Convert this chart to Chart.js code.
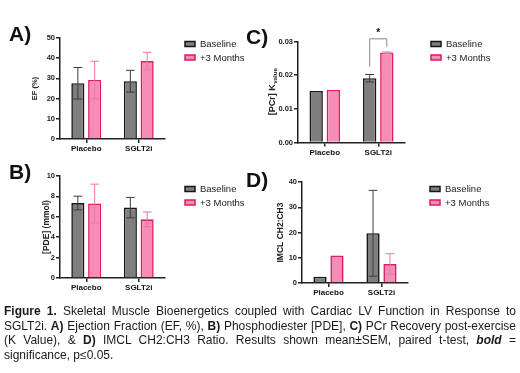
<!DOCTYPE html>
<html>
<head>
<meta charset="utf-8">
<script src="https://cdn.jsdelivr.net/npm/chart.js@4"></script>
<style>
  html, body { margin: 0; padding: 0; background: #fff; }
  #page { position: relative; width: 520px; height: 373px; overflow: hidden; font-family: Arial, "Liberation Sans", sans-serif; }
  canvas { position: absolute; }
  .panel-label { position: absolute; font-weight: bold; font-size: 21px; color: #111; line-height: 1; }
  #caption {
    position: absolute; left: 4px; top: 304px; width: 512px;
    font-size: 12px; line-height: 14.5px; color: #1a1a1a; text-align: justify;
  }
</style>
</head>
<body>
<div id="page">
  <canvas id="chartA" width="260" height="160" style="left:0;top:0"></canvas>
  <canvas id="chartC" width="260" height="160" style="left:260px;top:0"></canvas>
  <canvas id="chartB" width="260" height="160" style="left:0;top:140px"></canvas>
  <canvas id="chartD" width="260" height="160" style="left:260px;top:140px"></canvas>
  <div class="panel-label" style="left:9px;top:23px">A)</div>
  <div class="panel-label" style="left:246px;top:26px">C)</div>
  <div class="panel-label" style="left:9px;top:161px">B)</div>
  <div class="panel-label" style="left:246px;top:169px">D)</div>
  <div id="caption"><b>Figure 1.</b> Skeletal Muscle Bioenergetics coupled with Cardiac LV Function in Response to SGLT2i. <b>A)</b> Ejection Fraction (EF, %), <b>B)</b> Phosphodiester [PDE], <b>C)</b> PCr Recovery post-exercise (K Value), &amp; <b>D)</b> IMCL CH2:CH3 Ratio. Results shown mean±SEM, paired t-test, <b><i>bold</i></b> = significance, p≤0.05.</div>
</div>
<script>
"use strict";

// --- data ---
const groups = ['Placebo', 'SGLT2i'];
const seriesNames = ['Baseline', '+3 Months'];

const efBaseline = [27.6, 28.6];
const efBaselineSem = [7.8, 5.4];
const efFollowUp = [29.2, 38.6];
const efFollowUpSem = [9.3, 4.3];

const pdeBaseline = [7.35, 6.9];
const pdeBaselineSem = [0.67, 1.0];
const pdeFollowUp = [7.3, 5.75];
const pdeFollowUpSem = [1.9, 0.72];

const pcrBaseline = [0.0153, 0.0191];
const pcrBaselineSem = [0, 0.0011];
const pcrFollowUp = [0.0156, 0.0267];
const pcrFollowUpSem = [0, 0.0002];

const imclBaseline = [2.5, 19.7];
const imclBaselineSem = [0, 17];
const imclFollowUp = [10.9, 7.5];
const imclFollowUpSem = [0, 4.1];

// significance bracket in panel C (SGLT2i, Baseline vs +3 Months)
const pcrSigBracket = { group: 1, top: 0.0308, legs: [0.0225, 0.0284], label: '*' };

const FONT = 'Arial, "Liberation Sans", sans-serif';
const COLORS = {
    baseFill: '#7f7f7f', baseBorder: '#151515', baseErr: '#3c3c3c',
    followFill: '#f68db4', followBorder: '#dc1a67', followErr: '#ea78a2',
    axis: '#222'
};

/**
 * Draws mean ± SEM whiskers on top of each bar.
 */
const errorBarPlugin = {
    id: 'errorBars',
    afterDatasetsDraw(chart) {
        const ctx = chart.ctx;
        const yScale = chart.scales.y;
        chart.data.datasets.forEach((ds, di) => {
            const meta = chart.getDatasetMeta(di);
            meta.data.forEach((bar, i) => {
                const err = ds.errors ? ds.errors[i] : 0;
                if (!err) return;
                const v = ds.data[i];
                const yTop = yScale.getPixelForValue(v + err);
                const yBot = yScale.getPixelForValue(v - err);
                const cap = bar.width * 0.33;
                ctx.save();
                ctx.strokeStyle = ds.errorColor;
                ctx.lineWidth = 1;
                ctx.beginPath();
                ctx.moveTo(bar.x, yTop); ctx.lineTo(bar.x, yBot);
                ctx.moveTo(bar.x - cap, yTop); ctx.lineTo(bar.x + cap, yTop);
                ctx.moveTo(bar.x - cap, yBot); ctx.lineTo(bar.x + cap, yBot);
                ctx.stroke();
                ctx.restore();
            });
        });
    }
};

// legend + rotated y title (with optional subscript) + significance bracket
const panelDecorPlugin = {
    id: 'panelDecor',
    afterDraw(chart) {
        const opts = chart.options.plugins.panelDecor;
        if (!opts) return;
        const ctx = chart.ctx;
        const area = chart.chartArea;

        // legend
        chart.data.datasets.forEach((ds, i) => {
            const lx = opts.legendX, ly = opts.legendY + i * opts.legendGap;
            ctx.save();
            ctx.fillStyle = ds.backgroundColor;
            ctx.strokeStyle = ds.borderColor;
            ctx.lineWidth = 1.5;
            ctx.fillRect(lx, ly - 2.5, 10, 5);
            ctx.strokeRect(lx, ly - 2.5, 10, 5);
            ctx.fillStyle = '#222';
            ctx.font = '9.5px ' + FONT;
            ctx.textBaseline = 'middle';
            ctx.fillText(ds.label, lx + 15, ly + 0.5);
            ctx.restore();
        });

        // y axis title
        ctx.save();
        ctx.translate(opts.titleX, (area.top + area.bottom) / 2);
        ctx.rotate(-Math.PI / 2);
        ctx.fillStyle = '#222';
        ctx.textBaseline = 'middle';
        const mainFont = 'bold ' + opts.titleSize + 'px ' + FONT;
        const subFont = 'bold ' + (opts.titleSize * 0.68) + 'px ' + FONT;
        ctx.font = mainFont;
        const wMain = ctx.measureText(opts.title).width;
        let wSub = 0;
        if (opts.titleSub) {
            ctx.font = subFont;
            wSub = ctx.measureText(opts.titleSub).width;
        }
        const start = -(wMain + wSub) / 2;
        ctx.font = mainFont;
        ctx.textAlign = 'left';
        ctx.fillText(opts.title, start, 0);
        if (opts.titleSub) {
            ctx.font = subFont;
            ctx.fillText(opts.titleSub, start + wMain + 0.5, 2.8);
        }
        ctx.restore();

        // significance bracket
        const sig = opts.sig;
        if (sig) {
            const y = chart.scales.y;
            const b0 = chart.getDatasetMeta(0).data[sig.group];
            const b1 = chart.getDatasetMeta(1).data[sig.group];
            const top = y.getPixelForValue(sig.top);
            ctx.save();
            ctx.strokeStyle = '#888';
            ctx.lineWidth = 1;
            ctx.beginPath();
            ctx.moveTo(b0.x, y.getPixelForValue(sig.legs[0]));
            ctx.lineTo(b0.x, top);
            ctx.lineTo(b1.x, top);
            ctx.lineTo(b1.x, y.getPixelForValue(sig.legs[1]));
            ctx.stroke();
            ctx.fillStyle = '#111';
            ctx.font = 'bold 10px ' + FONT;
            ctx.textAlign = 'center';
            ctx.textBaseline = 'middle';
            ctx.fillText(sig.label, (b0.x + b1.x) / 2, top - 6);
            ctx.restore();
        }
    }
};

function buildPanel(canvasId, cfg) {
    const ctx = document.getElementById(canvasId).getContext('2d');
    return new Chart(ctx, {
        type: 'bar',
        data: {
            labels: groups,
            datasets: [
                {
                    label: seriesNames[0], data: cfg.baseline, errors: cfg.baselineSem,
                    backgroundColor: COLORS.baseFill, borderColor: COLORS.baseBorder,
                    errorColor: COLORS.baseErr, borderWidth: 1.6, borderSkipped: 'bottom'
                },
                {
                    label: seriesNames[1], data: cfg.followUp, errors: cfg.followUpSem,
                    backgroundColor: COLORS.followFill, borderColor: COLORS.followBorder,
                    errorColor: COLORS.followErr, borderWidth: 1.6, borderSkipped: 'bottom'
                }
            ]
        },
        options: {
            responsive: false,
            animation: false,
            events: [],
            barPercentage: 0.78,
            categoryPercentage: 0.64,
            layout: { padding: cfg.padding },
            plugins: {
                legend: { display: false },
                tooltip: { enabled: false },
                panelDecor: {
                    legendX: cfg.legendX, legendY: cfg.legendY, legendGap: 13.5,
                    title: cfg.title, titleSub: cfg.titleSub, titleX: cfg.titleX, titleSize: cfg.titleSize,
                    sig: cfg.sig
                }
            },
            scales: {
                x: {
                    grid: { display: true, drawOnChartArea: false, offset: false, tickLength: 4, color: COLORS.axis, lineWidth: 1.5 },
                    border: { display: true, color: COLORS.axis, width: 1.5 },
                    ticks: { color: '#111', font: { family: FONT, size: 8, weight: 'bold' }, padding: 1 },
                    afterFit: (scale) => { scale.height = cfg.xHeight; }
                },
                y: {
                    min: 0, max: cfg.yMax,
                    grid: { display: true, drawOnChartArea: false, tickLength: 4, color: COLORS.axis, lineWidth: 1.5 },
                    border: { display: true, color: COLORS.axis, width: 1.5 },
                    ticks: {
                        stepSize: cfg.yStep, padding: 1, color: '#222',
                        font: { family: FONT, size: 7.5, weight: 'bold' },
                        callback: (v) => Number(v).toFixed(cfg.decimals)
                    },
                    afterFit: (scale) => { scale.width = cfg.yWidth; }
                }
            }
        },
        plugins: [errorBarPlugin, panelDecorPlugin]
    });
}

buildPanel('chartA', {
    baseline: efBaseline, baselineSem: efBaselineSem, followUp: efFollowUp, followUpSem: efFollowUpSem,
    yMax: 50, yStep: 10, decimals: 0, title: 'EF (%)', titleX: 35, titleSize: 7.5,
    padding: { left: 30, top: 38, right: 95, bottom: 3 }, yWidth: 30, xHeight: 18,
    legendX: 185, legendY: 44
});

buildPanel('chartC', {
    baseline: pcrBaseline, baselineSem: pcrBaselineSem, followUp: pcrFollowUp, followUpSem: pcrFollowUpSem,
    yMax: 0.03, yStep: 0.01, decimals: 2, title: '[PCr] K', titleSub: 'value', titleX: 13, titleSize: 9,
    padding: { left: 8, top: 41.5, right: 115, bottom: 1.5 }, yWidth: 30, xHeight: 16,
    legendX: 171, legendY: 44, sig: pcrSigBracket
});

buildPanel('chartB', {
    baseline: pdeBaseline, baselineSem: pdeBaselineSem, followUp: pdeFollowUp, followUpSem: pdeFollowUpSem,
    yMax: 10, yStep: 2, decimals: 0, title: '[PDE] (mmol)', titleX: 47, titleSize: 8.5,
    padding: { left: 30, top: 36, right: 95, bottom: 4 }, yWidth: 30, xHeight: 18,
    legendX: 185, legendY: 49
});

buildPanel('chartD', {
    baseline: imclBaseline, baselineSem: imclBaselineSem, followUp: imclFollowUp, followUpSem: imclFollowUpSem,
    yMax: 40, yStep: 10, decimals: 0, title: 'IMCL CH2:CH3', titleX: 21, titleSize: 8.5,
    padding: { left: 12, top: 42, right: 112, bottom: 1 }, yWidth: 30, xHeight: 16,
    legendX: 170, legendY: 49
});
</script>
</body>
</html>
